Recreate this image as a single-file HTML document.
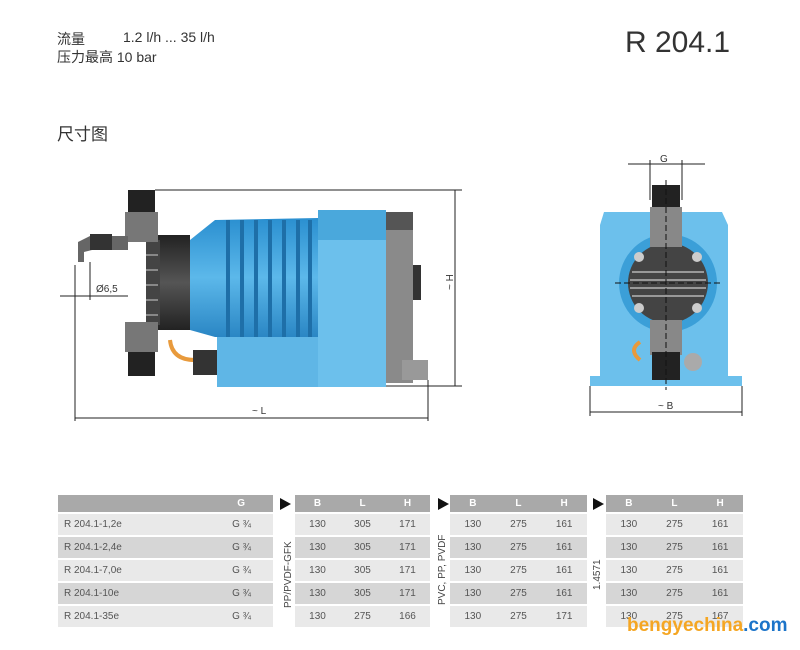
<!DOCTYPE html>
<html><head><meta charset="utf-8"><style>
body{margin:0;background:#fff;width:800px;height:650px;overflow:hidden;position:relative;font-family:"Liberation Sans","Noto Sans CJK SC",sans-serif;color:#333}
.t{position:absolute;white-space:nowrap}
table{position:absolute;border-collapse:separate;border-spacing:0 2px;font-size:10px;color:#555}
td{height:21px;padding:0}
tr.h td{background:#a9a9a9;color:#fff;font-weight:bold;height:17px}
tr.a td{background:#e9e9e9}
tr.b td{background:#d6d6d6}
.tri{position:absolute;width:0;height:0;border-top:6px solid transparent;border-bottom:6px solid transparent;border-left:11px solid #111}
.rot{position:absolute;transform:rotate(-90deg);transform-origin:left top;font-size:10px;color:#444;white-space:nowrap}
</style></head><body>
<div class="t" style="left:57px;top:29px;font-size:14px">流量</div>
<div class="t" style="left:123px;top:29px;font-size:14px">1.2 l/h ... 35 l/h</div>
<div class="t" style="left:57px;top:47px;font-size:14px">压力最高 10 bar</div>
<div class="t" style="left:625px;top:26px;font-size:30px;color:#333">R 204.1</div>
<div class="t" style="left:57px;top:120px;font-size:17px">尺寸图</div>

<svg width="800" height="650" style="position:absolute;left:0;top:0">
<defs>
<linearGradient id="bl" x1="0" y1="0" x2="0" y2="1"><stop offset="0" stop-color="#2a8fd0"/><stop offset=".5" stop-color="#5cb8ea"/><stop offset="1" stop-color="#2a86c4"/></linearGradient>
<linearGradient id="dk" x1="0" y1="0" x2="0" y2="1"><stop offset="0" stop-color="#222"/><stop offset=".5" stop-color="#555"/><stop offset="1" stop-color="#222"/></linearGradient>
</defs>
<g stroke="#222" stroke-width="1" fill="none">
<line x1="155" y1="190" x2="462" y2="190"/><line x1="320" y1="386" x2="462" y2="386"/>
<line x1="455" y1="190" x2="455" y2="386"/>
<line x1="75" y1="265" x2="75" y2="421"/><line x1="428" y1="380" x2="428" y2="421"/>
<line x1="75" y1="418" x2="428" y2="418"/>
<line x1="60" y1="296" x2="128" y2="296"/><line x1="90" y1="262" x2="90" y2="300"/>
<line x1="628" y1="164" x2="705" y2="164"/><line x1="650" y1="160" x2="650" y2="200"/><line x1="682" y1="160" x2="682" y2="200"/>
<line x1="590" y1="386" x2="590" y2="416"/><line x1="742" y1="386" x2="742" y2="416"/>
<line x1="590" y1="412" x2="742" y2="412"/>
</g>
<rect x="217" y="336" width="105" height="51" fill="#5fb6e6"/>
<path d="M190 240 L215 220 L318 218 L318 337 L215 337 L190 330Z" fill="url(#bl)"/>
<g fill="#1e6fa8"><rect x="226" y="220" width="4" height="117"/><rect x="240" y="220" width="4" height="117"/><rect x="254" y="220" width="4" height="117"/><rect x="268" y="220" width="4" height="117"/><rect x="282" y="220" width="4" height="117"/><rect x="296" y="220" width="4" height="117"/><rect x="308" y="220" width="4" height="117"/></g>
<rect x="318" y="210" width="68" height="177" fill="#6cc0ec"/>
<rect x="318" y="210" width="68" height="30" fill="#4aa8dc"/>
<rect x="386" y="212" width="27" height="171" fill="#8a8a8a"/>
<rect x="386" y="212" width="27" height="18" fill="#555"/>
<rect x="413" y="265" width="8" height="35" fill="#333"/>
<rect x="158" y="235" width="32" height="95" fill="url(#dk)"/>
<rect x="146" y="240" width="14" height="85" fill="#444"/>
<g stroke="#ccc"><line x1="146" y1="255" x2="158" y2="255"/><line x1="146" y1="270" x2="158" y2="270"/><line x1="146" y1="285" x2="158" y2="285"/><line x1="146" y1="300" x2="158" y2="300"/><line x1="146" y1="315" x2="158" y2="315"/></g>
<rect x="128" y="190" width="27" height="22" fill="#222"/><rect x="125" y="212" width="33" height="30" fill="#777"/>
<rect x="125" y="322" width="33" height="30" fill="#777"/><rect x="128" y="352" width="27" height="24" fill="#222"/>
<path d="M78 262 L78 242 L90 236 L128 236 L128 250 L92 250 L84 252 L84 262Z" fill="#666"/>
<rect x="90" y="234" width="22" height="16" fill="#333"/>
<path d="M170 340 Q172 360 195 360" stroke="#e89a3c" stroke-width="4" fill="none"/>
<rect x="193" y="350" width="24" height="25" fill="#333"/>
<rect x="402" y="360" width="26" height="20" fill="#999"/>
<rect x="590" y="376" width="152" height="10" fill="#6cc0ec"/>
<path d="M604 212 L722 212 L728 225 L728 378 L600 378 L600 225Z" fill="#6cc0ec"/>
<circle cx="668" cy="283" r="49" fill="#3b9fd8"/>
<circle cx="668" cy="283" r="40" fill="#444"/>
<g stroke="#999" stroke-width="2"><line x1="632" y1="272" x2="704" y2="272"/><line x1="630" y1="280" x2="706" y2="280"/><line x1="630" y1="288" x2="706" y2="288"/><line x1="632" y1="296" x2="704" y2="296"/></g>
<g fill="#ccc"><circle cx="639" cy="257" r="5"/><circle cx="697" cy="257" r="5"/><circle cx="639" cy="308" r="5"/><circle cx="697" cy="308" r="5"/></g>
<rect x="652" y="185" width="28" height="22" fill="#222"/><rect x="650" y="207" width="32" height="40" fill="#888"/>
<rect x="650" y="320" width="32" height="35" fill="#888"/><rect x="652" y="352" width="28" height="28" fill="#222"/>
<circle cx="693" cy="362" r="9" fill="#aaa"/>
<path d="M640 360 Q628 350 640 342" stroke="#e89a3c" stroke-width="4" fill="none"/>
<line x1="666" y1="180" x2="666" y2="390" stroke="#111" stroke-dasharray="6,3"/>
<line x1="615" y1="283" x2="720" y2="283" stroke="#111" stroke-dasharray="6,3"/>
<text x="96" y="292" font-size="10" fill="#333" font-family="Liberation Sans">Ø6,5</text>
<text x="252" y="414" font-size="10" fill="#333" font-family="Liberation Sans">~ L</text>
<text x="660" y="162" font-size="10" fill="#333" font-family="Liberation Sans">G</text>
<text x="658" y="409" font-size="10" fill="#333" font-family="Liberation Sans">~ B</text>
<text transform="translate(453,290) rotate(-90)" font-size="10" fill="#333" font-family="Liberation Sans">~ H</text>
</svg>

<table style="left:58px;top:493px;width:215px">
<tr class="h"><td></td><td style="text-align:right;padding-right:28px">G</td></tr>
<tr class="a"><td style="padding-left:6px">R 204.1-1,2e</td><td style="text-align:right;padding-right:22px">G ¾</td></tr>
<tr class="b"><td style="padding-left:6px">R 204.1-2,4e</td><td style="text-align:right;padding-right:22px">G ¾</td></tr>
<tr class="a"><td style="padding-left:6px">R 204.1-7,0e</td><td style="text-align:right;padding-right:22px">G ¾</td></tr>
<tr class="b"><td style="padding-left:6px">R 204.1-10e</td><td style="text-align:right;padding-right:22px">G ¾</td></tr>
<tr class="a"><td style="padding-left:6px">R 204.1-35e</td><td style="text-align:right;padding-right:22px">G ¾</td></tr>
</table>
<div class="tri" style="left:280px;top:498px"></div>
<div class="rot" style="left:283px;top:608px">PP/PVDF-GFK</div>
<table style="left:295px;top:493px;width:135px;text-align:center">
<tr class="h"><td>B</td><td>L</td><td>H</td></tr>
<tr class="a"><td>130</td><td>305</td><td>171</td></tr>
<tr class="b"><td>130</td><td>305</td><td>171</td></tr>
<tr class="a"><td>130</td><td>305</td><td>171</td></tr>
<tr class="b"><td>130</td><td>305</td><td>171</td></tr>
<tr class="a"><td>130</td><td>275</td><td>166</td></tr>
</table>
<div class="tri" style="left:438px;top:498px"></div>
<div class="rot" style="left:437px;top:605px">PVC, PP, PVDF</div>
<table style="left:450px;top:493px;width:137px;text-align:center">
<tr class="h"><td>B</td><td>L</td><td>H</td></tr>
<tr class="a"><td>130</td><td>275</td><td>161</td></tr>
<tr class="b"><td>130</td><td>275</td><td>161</td></tr>
<tr class="a"><td>130</td><td>275</td><td>161</td></tr>
<tr class="b"><td>130</td><td>275</td><td>161</td></tr>
<tr class="a"><td>130</td><td>275</td><td>171</td></tr>
</table>
<div class="tri" style="left:593px;top:498px"></div>
<div class="rot" style="left:592px;top:590px">1.4571</div>
<table style="left:606px;top:493px;width:137px;text-align:center">
<tr class="h"><td>B</td><td>L</td><td>H</td></tr>
<tr class="a"><td>130</td><td>275</td><td>161</td></tr>
<tr class="b"><td>130</td><td>275</td><td>161</td></tr>
<tr class="a"><td>130</td><td>275</td><td>161</td></tr>
<tr class="b"><td>130</td><td>275</td><td>161</td></tr>
<tr class="a"><td>130</td><td>275</td><td>167</td></tr>
</table>
<div class="t" style="left:627px;top:615px;font-size:19px;font-weight:bold;color:#f5a623">bengyechina<span style="color:#1c74c9">.com</span></div>
</body></html>
